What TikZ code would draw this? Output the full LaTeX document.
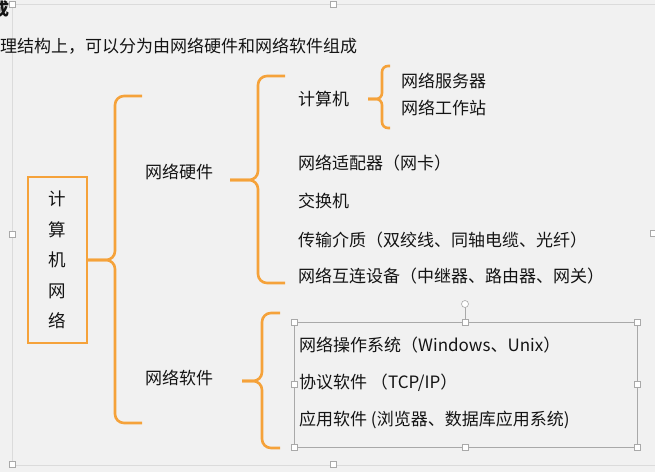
\documentclass[tikz,border=0pt]{standalone}
\usepackage{fontspec}
\newfontfamily\cjk{Noto Sans CJK SC}
\usetikzlibrary{positioning}
\definecolor{braceorange}{HTML}{F5A23A}
\definecolor{slidebg}{HTML}{F1F1F1}
\definecolor{selgray}{HTML}{A9A9A9}

\begin{document}
\begin{tikzpicture}[
  x=1pt, y=-1pt,
  brace/.style={draw=braceorange, line width=2.6pt, rounded corners=9pt},
  item/.style={anchor=west, inner sep=0pt, text=black!92, font=\cjk\fontsize{17}{20}\selectfont},
  handle/.style={draw=selgray, fill=white, minimum size=6pt, inner sep=0pt, line width=0.6pt},
  frame/.style={draw=black!14, line width=0.8pt}
]
\fill[slidebg] (0,0) rectangle (655,472);
\useasboundingbox (0,0) rectangle (655,472);

% slide frame
\draw[frame] (12,4) -- (655,4);
\draw[frame] (12,4) -- (12,465);
\draw[frame] (12,465) -- (655,465);
\foreach \p in {(12,4),(333,4),(12,234),(12,464),(333,464),(653,233)}
  \node[handle] at \p {};

% heading
\node[item, font=\cjk\bfseries\fontsize{17}{20}\selectfont] (head) at (-8,9) {成};
\node[item] (intro) at (0,46) {理结构上，可以分为由网络硬件和网络软件组成};

% root
\node[draw=braceorange, line width=2pt, minimum width=59pt, minimum height=166pt,
      align=center, text=black!92, font=\cjk\fontsize{17.5}{30.5}\selectfont] (net) at (57.5,260)
  {计\\算\\机\\网\\络};

\node[item] (hw) at (145,172) {网络硬件};
\node[item] (sw) at (145,378) {网络软件};

% hardware
\node[item] (pc) at (298,99) {计算机};
\node[item] (srv) at (401,81) {网络服务器};
\node[item] (ws) at (401,108) {网络工作站};
\node[item] (nic) at (298,163) {网络适配器（网卡）};
\node[item] (swt) at (298,201) {交换机};
\node[item] (media) at (298,240) {传输介质（双绞线、同轴电缆、光纤）};
\node[item] (inter) at (298,276) {网络互连设备（中继器、路由器、网关）};

% software (selected text box)
\draw[selgray, line width=0.7pt] (294,322) rectangle (637,447);
\draw[selgray, line width=0.6pt] (465,304) -- (465,322);
\node[draw=selgray, fill=white, circle, minimum size=7pt, inner sep=0pt, line width=0.6pt] (rot) at (465,304) {};
\foreach \p in {(294,322),(465,322),(637,322),(294,384.5),(637,384.5),(294,447),(465,447),(637,447)}
  \node[handle] at \p {};
\node[item] (os) at (299,345) {网络操作系统（Windows、Unix）};
\node[item] (proto) at (299,383) {协议软件 （TCP/IP）};
\node[item] (app) at (299,420) {应用软件 (浏览器、数据库应用系统)};

% braces
\coordinate (b1t) at (142,96);
\coordinate (b1b) at (142,423);
\coordinate (b1s) at (115,260);
\draw[brace] (b1t) -| (b1s) -- (net.east);
\draw[brace] (b1b) -| (b1s) -- (net.east);

\coordinate (b2c) at (230,180);
\coordinate (b2t) at (285,76);
\coordinate (b2b) at (285,283);
\coordinate (b2s) at (258,180);
\draw[brace] (b2t) -| (b2s) -- (b2c);
\draw[brace] (b2b) -| (b2s) -- (b2c);

\coordinate (b3c) at (368,99);
\coordinate (b3t) at (390,66);
\coordinate (b3b) at (390,128);
\coordinate (b3s) at (382,99);
\draw[brace, rounded corners=6pt] (b3t) -| (b3s) -- (b3c);
\draw[brace, rounded corners=6pt] (b3b) -| (b3s) -- (b3c);

\coordinate (b4c) at (242,381);
\coordinate (b4t) at (280,313);
\coordinate (b4b) at (280,448);
\coordinate (b4s) at (262,381);
\draw[brace] (b4t) -| (b4s) -- (b4c);
\draw[brace] (b4b) -| (b4s) -- (b4c);
\end{tikzpicture}
\end{document}
